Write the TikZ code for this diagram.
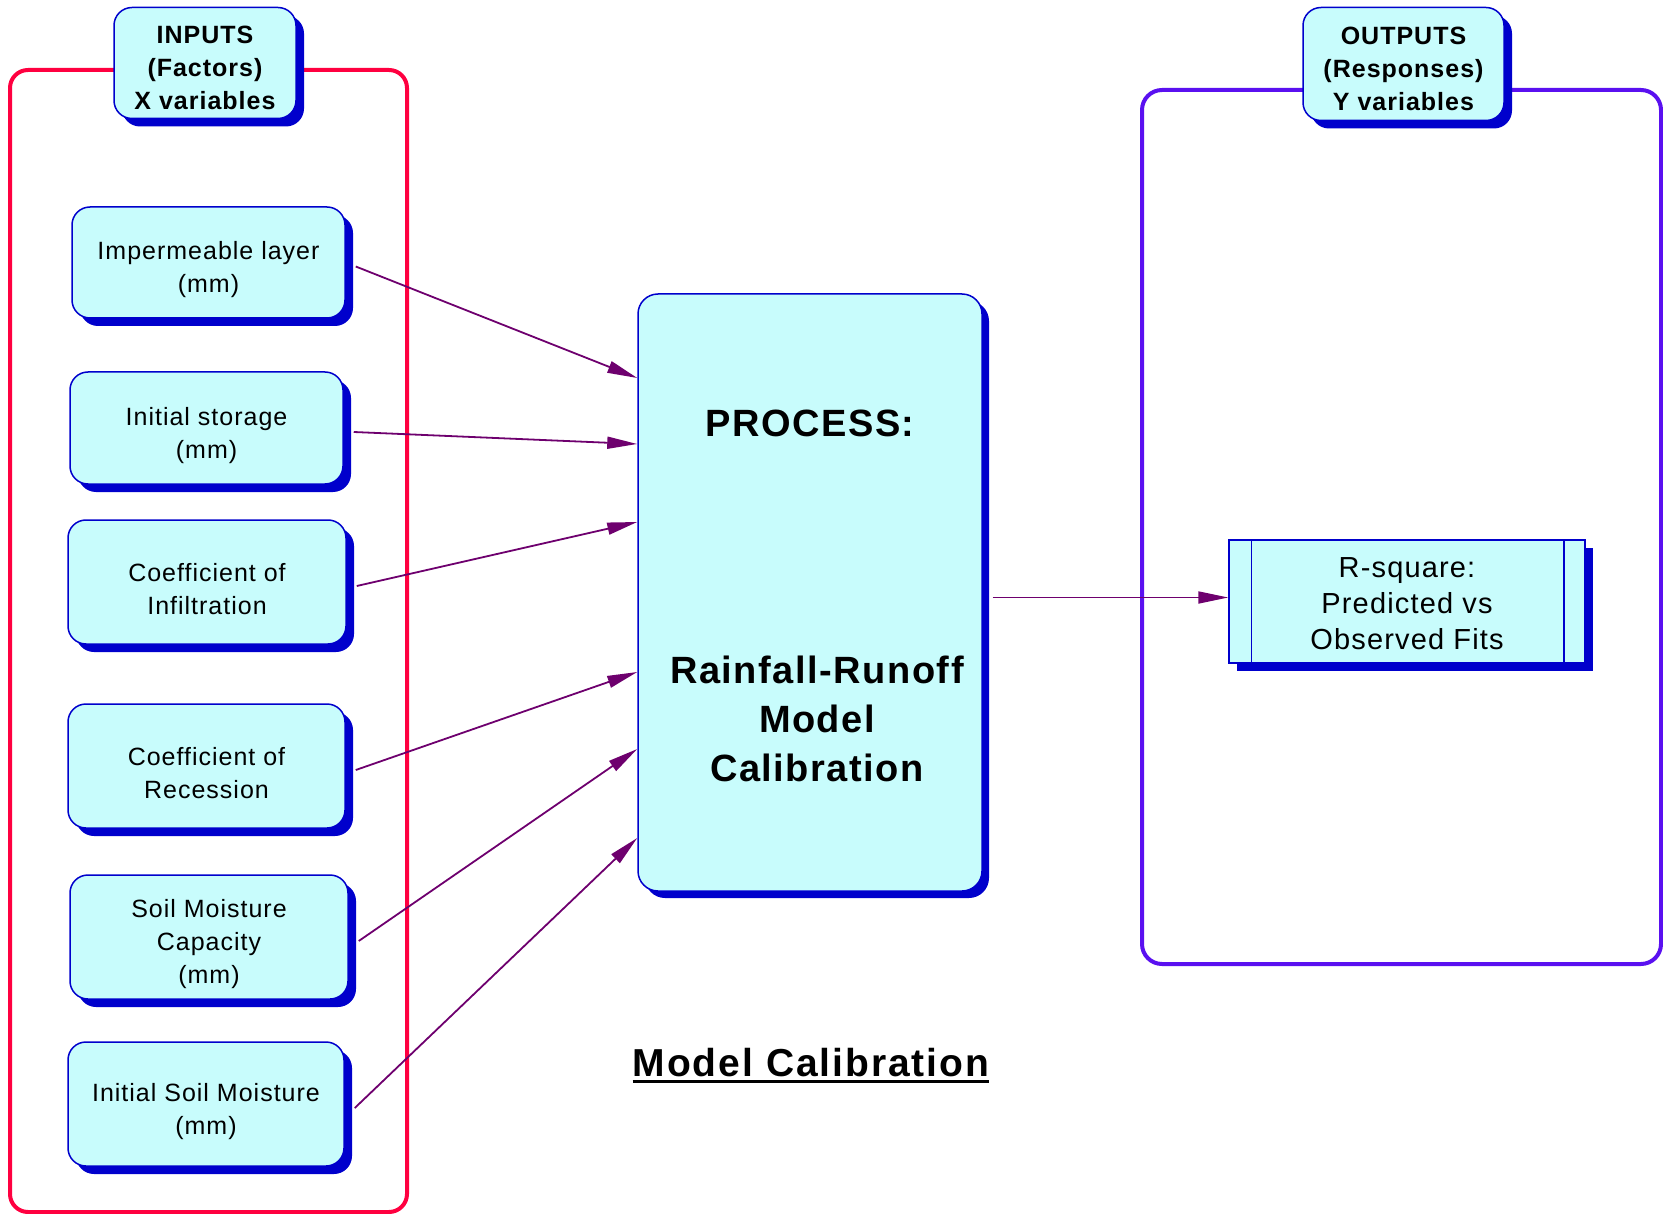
\documentclass[tikz,border=0pt]{standalone}
\usepackage{fontspec}
\setmainfont{Liberation Sans}[LetterSpace=4]
\usetikzlibrary{arrows.meta,shadows}
\definecolor{boxfill}{RGB}{200,252,252}
\definecolor{boxline}{RGB}{0,0,204}
\definecolor{arrowc}{RGB}{110,0,110}
\definecolor{inred}{RGB}{255,0,64}
\definecolor{outblue}{RGB}{90,16,240}
% a tall invisible strut on the first line lowers the text block in its box
\newcommand\firststrut[1]{\rule{0pt}{#1}}
\tikzset{
  frame/.style={draw, line width=4pt, rounded corners=18pt, inner sep=0pt},
  shad/.style={drop shadow={shadow xshift=8pt, shadow yshift=-8pt, fill=boxline, opacity=1}},
  inbox/.style={draw=boxline, line width=1.5pt, fill=boxfill, rounded corners=18pt, shad,
    align=center, inner sep=0pt, font=\fontsize{25}{33}\selectfont},
  titlebox/.style={inbox, font=\bfseries\fontsize{25}{33}\selectfont},
  procbox/.style={draw=boxline, line width=1.5pt, fill=boxfill, rounded corners=20pt,
    drop shadow={shadow xshift=7pt, shadow yshift=-7pt, fill=boxline, opacity=1}, inner sep=0pt},
  proctext/.style={align=center, inner sep=0pt, font=\bfseries\fontsize{38}{49}\selectfont},
  outbox/.style={draw=boxline, line width=1.5pt, fill=boxfill, shad, align=center, inner sep=0pt,
    font=\fontsize{29}{36}\selectfont},
  arr/.style={draw=arrowc, line width=1.8pt, -{Triangle[length=30pt,width=12pt]}, fill=arrowc},
}
\begin{document}
\begin{tikzpicture}[x=1pt,y=-1pt]
\useasboundingbox (0,0) rectangle (1663,1214);

% group frames
\node[frame, draw=inred, minimum width=397pt, minimum height=1142pt] (inframe) at (208.5,641) {};
\node[frame, draw=outblue, rounded corners=20pt, minimum width=519pt, minimum height=874pt] (outframe) at (1401.5,527) {};

% group titles
\node[titlebox, minimum width=182pt, minimum height=111pt] (intitle) at (205,63) {\firststrut{27pt}INPUTS\\(Factors)\\X variables};
\node[titlebox, minimum width=201pt, minimum height=113pt] (outtitle) at (1403.5,64) {\firststrut{27pt}OUTPUTS\\(Responses)\\Y variables};

% input factors
\node[inbox, minimum width=273pt, minimum height=111pt] (imp)   at (208.5,262.5) {\firststrut{33pt}Impermeable layer\\(mm)};
\node[inbox, minimum width=273pt, minimum height=112pt] (stor)  at (206.5,428)   {\firststrut{33pt}Initial storage\\(mm)};
\node[inbox, minimum width=278pt, minimum height=124pt] (infil) at (207,582)     {\firststrut{33pt}Coefficient of\\Infiltration};
\node[inbox, minimum width=277pt, minimum height=124pt] (reces) at (206.5,766)   {\firststrut{33pt}Coefficient of\\Recession};
\node[inbox, minimum width=278pt, minimum height=124pt] (smc)   at (209,937)     {\firststrut{33pt}Soil Moisture\\Capacity\\(mm)};
\node[inbox, minimum width=276pt, minimum height=124pt] (ism)   at (206,1104)    {\firststrut{33pt}Initial Soil Moisture\\(mm)};

% process
\node[procbox, minimum width=344pt, minimum height=597pt] (proc) at (810,592.5) {};
\node[proctext, anchor=base] (ptitle) at (810,437) {PROCESS:};
\node[proctext] (pbody) at (817,719) {Rainfall-Runoff\\Model\\Calibration};

% output response
\node[outbox, minimum width=356pt, minimum height=123pt] (rsq) at (1407,601.5) {\firststrut{25pt}R-square:\\Predicted vs\\Observed Fits};
\draw[boxline, line width=1.5pt] ([xshift=23pt]rsq.north west) -- ([xshift=23pt]rsq.south west);
\draw[boxline, line width=1.5pt] ([xshift=-22pt]rsq.north east) -- ([xshift=-22pt]rsq.south east);

% connectors
\draw[arr] ([shift={(10pt,-4pt)}]imp.east)   -- ([yshift=214.5pt]proc.west);
\draw[arr] ([shift={(10pt,-4pt)}]stor.east)  -- ([yshift=148.5pt]proc.west);
\draw[arr] ([shift={(10pt,-4pt)}]infil.east) -- ([yshift=70.5pt]proc.west);
\draw[arr] ([shift={(10pt,-4pt)}]reces.east) -- ([yshift=-79.5pt]proc.west);
\draw[arr] ([shift={(10pt,-4pt)}]smc.east)   -- ([yshift=-156.5pt]proc.west);
\draw[arr] ([shift={(10pt,-4pt)}]ism.east)   -- ([yshift=-245.5pt]proc.west);
\coordinate (rsqin) at ([yshift=4pt]rsq.west);
\draw[arr] ([xshift=10pt]proc.east |- rsqin) -- (rsqin);

% caption
\node[anchor=base, inner sep=0pt, font=\bfseries\fontsize{39}{47}\selectfont\addfontfeature{LetterSpace=5}] (caption) at (811,1076) {Model Calibration};
\draw[line width=3pt] ([yshift=-5pt]caption.base west) -- ([yshift=-5pt]caption.base east);
\end{tikzpicture}
\end{document}
